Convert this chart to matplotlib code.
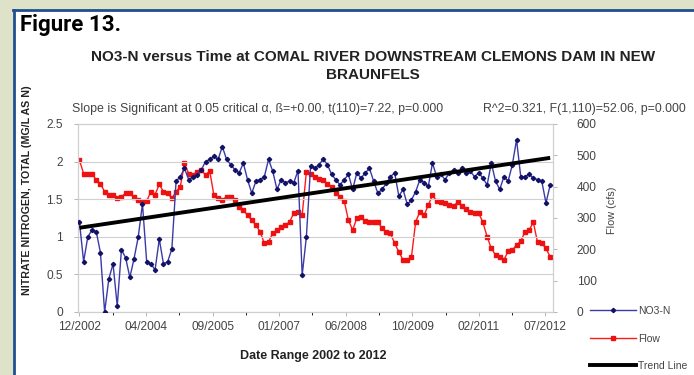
import numpy as np
import matplotlib
matplotlib.use("Agg")
import matplotlib.pyplot as plt
from matplotlib.lines import Line2D
from matplotlib.patches import Rectangle

plt.rcParams['font.family'] = ['Liberation Sans', 'DejaVu Sans']

# ---- data ----
no3 = [1.20, 0.67, 1.00, 1.09, 1.07, 0.79, 0.00, 0.44, 0.64, 0.08, 0.83, 0.72,
       0.46, 0.71, 1.00, 1.44, 0.67, 0.64, 0.56, 0.97, 0.64, 0.67, 0.84, 1.74,
       1.80, 1.91, 1.76, 1.80, 1.82, 1.89, 2.00, 2.03, 2.07, 2.03, 2.20, 2.03,
       1.96, 1.89, 1.85, 1.98, 1.76, 1.58, 1.74, 1.76, 1.80, 2.03, 1.87, 1.63,
       1.76, 1.72, 1.74, 1.72, 1.88, 0.49, 1.00, 1.94, 1.91, 1.96, 2.03, 1.96,
       1.83, 1.76, 1.69, 1.76, 1.83, 1.63, 1.85, 1.78, 1.85, 1.91, 1.74, 1.58,
       1.63, 1.71, 1.80, 1.85, 1.54, 1.63, 1.43, 1.49, 1.60, 1.76, 1.72, 1.67,
       1.98, 1.80, 1.83, 1.76, 1.85, 1.89, 1.85, 1.91, 1.85, 1.87, 1.80, 1.85,
       1.78, 1.69, 1.98, 1.74, 1.63, 1.80, 1.74, 1.96, 2.29, 1.80, 1.80, 1.83,
       1.78, 1.76, 1.74, 1.45, 1.69]

flow = [485, 442, 442, 442, 421, 410, 384, 373, 373, 365, 368, 379, 379, 368,
        357, 352, 354, 384, 375, 407, 384, 379, 363, 384, 400, 474, 442, 437,
        448, 453, 437, 450, 373, 363, 357, 368, 368, 357, 336, 325, 309, 293,
        277, 256, 219, 224, 251, 261, 272, 277, 288, 315, 320, 309, 448, 442,
        431, 426, 421, 410, 400, 379, 368, 354, 293, 262, 299, 304, 290, 288,
        288, 288, 267, 256, 251, 219, 192, 166, 166, 176, 288, 320, 309, 341,
        373, 354, 350, 347, 341, 339, 350, 339, 329, 320, 315, 315, 286, 240,
        203, 182, 176, 166, 195, 198, 214, 226, 256, 262, 286, 222, 219, 203,
        176]

trend = [1.12, 2.05]

date_labels = ["12/2002", "04/2004", "09/2005", "01/2007", "06/2008",
               "10/2009", "02/2011", "07/2012"]
left_ticks = [0, 0.5, 1, 1.5, 2, 2.5]
right_ticks = [0, 100, 200, 300, 400, 500, 600]

# ---- figure ----
W, H = 694, 375
fig = plt.figure(figsize=(W / 100, H / 100), dpi=100)
fig.patch.set_facecolor("#dde2c9")
# white panel with blue border
fig.add_artist(Rectangle((13 / W, 0), 1, 1 - 10 / H, transform=fig.transFigure,
                         facecolor="white", edgecolor="none", zorder=0))
fig.add_artist(Line2D([13 / W, 1], [1 - 9.5 / H, 1 - 9.5 / H], color="#1f4f8f",
                      lw=2.0, transform=fig.transFigure))
fig.add_artist(Line2D([13.5 / W, 13.5 / W], [0, 1 - 9.5 / H], color="#1f4f8f",
                      lw=2.0, transform=fig.transFigure))

ax = fig.add_axes([78 / W, 1 - 312 / H, (553 - 78) / W, (312 - 124) / H])
ax.set_facecolor("none")
ax2 = ax.twinx()

x1 = np.linspace(0, 1, len(no3))
x2 = np.linspace(0, 1, len(flow))

ax2.plot(x2, flow, color="#ff1a1a", lw=1.0, marker="s", ms=3.2,
         mfc="#ee1111", mec="#ee1111", zorder=2)
ax.plot(x1, no3, color="#3a3aa8", lw=1.0, marker="D", ms=2.2,
        mfc="#111166", mec="#111166", zorder=3)
ax.plot([0, 1], trend, color="black", lw=2.8, zorder=4, solid_capstyle="butt")

ax.set_zorder(ax2.get_zorder() + 1)
ax.patch.set_visible(False)

ax.set_xlim(-0.003, 1.006)
ax.set_ylim(0, 2.5)
ax2.set_ylim(0, 600)
ax.set_yticks(left_ticks)
ax.set_yticklabels([f"{v:g}" for v in left_ticks])
ax2.set_yticks(right_ticks)
ax.set_xticks(np.linspace(0, 0.99, len(date_labels)))
ax.set_xticklabels(date_labels)
ax.set_xticks(np.linspace(0, 0.99, 2 * len(date_labels) - 1), minor=True)

ax.grid(axis="y", color="#d0d0d0", lw=0.8)
ax.set_axisbelow(True)
for a in (ax, ax2):
    for s in a.spines.values():
        s.set_color("#cfcfcf")
        s.set_linewidth(0.8)
    a.tick_params(labelsize=8.6, colors="#444444", length=3, width=0.6,
                  direction="out")
    a.tick_params(axis="both", color="#aaaaaa")
ax.tick_params(axis="x", pad=3, which="minor", length=2)
ax.tick_params(axis="x", which="major", length=3)
ax.tick_params(axis="y", pad=8)
ax2.tick_params(axis="y", pad=14)

# ---- texts ----
fig.text(20 / W, 1 - 31 / H, "Figure 13.", fontsize=16, fontweight="bold",
         family=["Roboto", "DejaVu Sans"], va="baseline", ha="left",
         color="black")
fig.text(373 / W, 1 - 66 / H,
         "NO3-N versus Time at COMAL RIVER DOWNSTREAM CLEMONS DAM IN NEW\nBRAUNFELS",
         fontsize=11, fontweight="bold", ha="center", va="center",
         color="#222222", linespacing=1.3)
fig.text(72 / W, 1 - 109 / H,
         "Slope is Significant at 0.05 critical \u03b1, \u00df=+0.00, t(110)=7.22, p=0.000",
         fontsize=8.9, ha="left", va="center", color="#444444")
fig.text(686 / W, 1 - 109 / H, "R^2=0.321, F(1,110)=52.06, p=0.000",
         fontsize=8.9, ha="right", va="center", color="#444444")
fig.text(27 / W, 1 - 190 / H, "NITRATE NITROGEN, TOTAL (MG/L AS N)",
         fontsize=7.7, fontweight="bold", rotation=90, ha="center",
         va="center", color="#222222")
fig.text(612 / W, 1 - 210 / H, "Flow (cfs)", fontsize=7.8, rotation=90,
         ha="center", va="center", color="#444444")
fig.text(313 / W, 1 - 356 / H, "Date Range 2002 to 2012", fontsize=9,
         fontweight="bold", ha="center", va="center", color="#222222")

# ---- legend ----
handles = [
    Line2D([], [], color="#3a3aa8", lw=1.0, marker="D", ms=2.2,
           mfc="#111166", mec="#111166"),
    Line2D([], [], color="#ff1a1a", lw=1.0, marker="s", ms=3.2,
           mfc="#ee1111", mec="#ee1111"),
    Line2D([], [], color="black", lw=2.8),
]
fig.legend(handles, ["NO3-N", "Flow", "Trend Line"],
           loc="upper left", bbox_to_anchor=(590 / W, 1 - 306 / H),
           frameon=False, fontsize=7.5, handlelength=4.4, handletextpad=0.2,
           labelspacing=1.68, labelcolor="#444444", borderaxespad=0,
           borderpad=0)

fig.savefig("out.png", dpi=100)
